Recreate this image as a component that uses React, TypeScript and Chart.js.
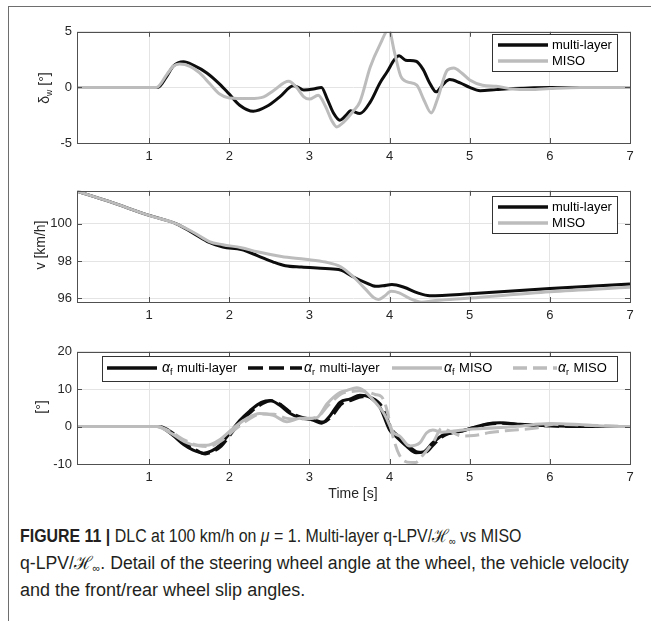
import React, { useEffect, useRef } from "react";
import { Chart, registerables } from "chart.js";

Chart.register(...registerables);

// ---------- tick values ----------
const timeTicks = [1, 2, 3, 4, 5, 6, 7];
const deltaTicks = [-5, 0, 5];
const speedTicks = [96, 98, 100];
const slipTicks = [-10, 0, 10, 20];

// ---------- steering angle at the wheel δw [°] ----------
const deltaMLTime = [0.1, 1.11, 1.22, 1.3, 1.43, 1.55, 1.72, 1.88, 2.0, 2.13, 2.3, 2.47, 2.63, 2.8, 2.86, 2.93, 3.05, 3.15, 3.22, 3.3, 3.38, 3.47, 3.51, 3.63, 3.76, 3.88, 3.97, 4.06, 4.12, 4.2, 4.33, 4.42, 4.5, 4.58, 4.67, 4.75, 4.88, 5.0, 5.13, 5.33, 5.54, 6.0, 7.0];
const deltaML = [0, 0, 1.0, 1.9, 2.3, 2.0, 1.3, 0.3, -0.6, -1.6, -2.15, -1.7, -0.85, 0.15, 0, -0.23, -0.15, 0, -1.0, -2.3, -2.95, -2.4, -2.1, -2.35, -1.3, 0.4, 1.4, 2.5, 2.85, 2.45, 2.35, 1.6, 0.4, -0.4, 0.3, 0.7, 0.4, 0, -0.3, -0.2, -0.1, 0, 0];
const deltaMISOTime = [0.1, 1.09, 1.22, 1.3, 1.38, 1.51, 1.63, 1.76, 1.88, 2.0, 2.26, 2.43, 2.55, 2.74, 2.84, 2.93, 3.0, 3.11, 3.2, 3.28, 3.34, 3.43, 3.55, 3.63, 3.76, 3.88, 3.99, 4.06, 4.14, 4.22, 4.34, 4.43, 4.52, 4.6, 4.72, 4.8, 4.9, 5.0, 5.16, 5.33, 5.54, 5.75, 6.0, 6.38, 7.0];
const deltaMISO = [0, 0, 1.15, 1.9, 2.1, 1.9, 1.3, 0.3, -0.6, -0.95, -1.0, -0.85, -0.3, 0.55, 0, -0.85, -1.05, -0.7, -1.7, -3.0, -3.55, -3.1, -2.1, -1.3, 1.85, 3.85, 5.2, 3.2, 1.0, 0.5, 0.2, -1.15, -2.3, -1.0, 1.55, 1.75, 1.3, 0.67, 0.2, 0.1, -0.15, -0.2, -0.1, 0, 0];

// ---------- vehicle velocity v [km/h] ----------
const speedMLTime = [0.1, 0.5, 1.0, 1.34, 1.55, 1.75, 1.92, 2.15, 2.35, 2.55, 2.7, 2.9, 3.2, 3.39, 3.55, 3.7, 3.83, 3.92, 4.03, 4.18, 4.35, 4.5, 5.0, 6.0, 7.0];
const speedML = [101.75, 101.2, 100.45, 100.0, 99.5, 99.0, 98.75, 98.62, 98.3, 97.95, 97.75, 97.68, 97.6, 97.52, 97.15, 96.85, 96.65, 96.68, 96.75, 96.6, 96.3, 96.15, 96.25, 96.53, 96.78];
const speedMISOTime = [0.1, 0.5, 1.0, 1.34, 1.55, 1.75, 1.92, 2.15, 2.35, 2.65, 2.95, 3.2, 3.39, 3.55, 3.7, 3.8, 3.86, 3.93, 4.02, 4.12, 4.25, 4.4, 4.55, 5.0, 6.0, 7.0];
const speedMISO = [101.75, 101.2, 100.45, 100.0, 99.55, 99.05, 98.88, 98.72, 98.5, 98.25, 98.1, 97.95, 97.7, 97.15, 96.5, 96.05, 95.95, 96.1, 96.38, 96.3, 96.0, 95.8, 95.88, 96.02, 96.36, 96.6];

// ---------- slip angles [°] ----------
const alphaFMLTime = [0.1, 1.11, 1.26, 1.43, 1.55, 1.68, 1.78, 1.88, 2.0, 2.13, 2.26, 2.4, 2.51, 2.63, 2.76, 2.88, 3.05, 3.15, 3.26, 3.38, 3.51, 3.63, 3.76, 3.88, 4.0, 4.08, 4.21, 4.33, 4.42, 4.54, 4.67, 4.88, 5.04, 5.21, 5.38, 5.63, 5.96, 6.38, 7.0];
const alphaFML = [0, 0, -1.7, -4.8, -6.3, -7.1, -6.5, -5.0, -1.9, 1.6, 4.3, 6.5, 7.0, 5.7, 3.5, 2.4, 1.7, 0.9, 3.0, 6.5, 7.4, 8.4, 7.8, 5.2, -0.9, -2.6, -5.2, -7.0, -6.8, -4.3, -2.2, -1.3, -0.3, 0.7, 1.0, 0.6, 0.25, 0, 0];
const alphaRMLTime = [0.1, 1.13, 1.28, 1.45, 1.58, 1.7, 1.8, 1.9, 2.02, 2.15, 2.28, 2.42, 2.53, 2.65, 2.78, 2.9, 3.06, 3.17, 3.28, 3.4, 3.53, 3.66, 3.78, 3.9, 4.02, 4.1, 4.23, 4.35, 4.44, 4.56, 4.68, 4.9, 5.06, 5.23, 5.4, 5.65, 6.0, 6.4, 7.0];
const alphaRML = [0, 0, -1.5, -4.5, -6.2, -7.3, -6.6, -5.2, -2.0, 1.4, 4.1, 6.2, 6.9, 5.8, 3.6, 2.5, 1.8, 1.2, 2.8, 6.0, 7.1, 8.0, 7.6, 5.5, -0.5, -2.4, -5.0, -6.8, -6.9, -4.6, -2.4, -1.2, -0.2, 0.6, 0.9, 0.55, 0.2, 0, 0];
const alphaFMISOTime = [0.1, 1.09, 1.26, 1.43, 1.59, 1.72, 1.88, 2.05, 2.22, 2.38, 2.55, 2.72, 2.88, 3.09, 3.22, 3.38, 3.47, 3.59, 3.68, 3.8, 3.93, 4.05, 4.13, 4.25, 4.38, 4.46, 4.54, 4.65, 4.8, 5.0, 5.3, 5.6, 6.0, 6.3, 6.6, 7.0];
const alphaFMISO = [0, 0, -1.6, -3.9, -5.0, -5.0, -3.5, -0.4, 2.2, 3.5, 3.0, 1.3, 2.2, 2.4, 6.1, 9.1, 9.7, 10.4, 9.6, 7.0, 3.5, -1.6, -2.6, -5.2, -4.3, -1.7, -0.9, -1.5, -1.2, -0.7, -0.4, 0.1, 0.8, 0.6, 0.2, 0];
const alphaRMISOTime = [0.1, 1.1, 1.27, 1.45, 1.62, 1.75, 1.9, 2.07, 2.24, 2.4, 2.56, 2.72, 2.9, 3.1, 3.24, 3.4, 3.5, 3.62, 3.72, 3.82, 3.9, 3.96, 4.04, 4.12, 4.22, 4.32, 4.42, 4.55, 4.65, 4.75, 4.9, 5.05, 5.25, 5.45, 5.85, 6.05, 6.4, 7.0];
const alphaRMISO = [0, 0, -1.4, -3.7, -5.1, -5.3, -3.8, -0.8, 1.9, 3.4, 3.3, 2.2, 2.0, 2.6, 5.8, 8.8, 9.3, 9.6, 9.3, 8.6, 8.0, 5.0, -2.5, -7.5, -9.5, -9.6, -7.5, -4.0, -0.5, -1.2, -2.5, -2.4, -1.6, -1.1, -0.3, 0.6, 0.4, 0];

// ---------- styles ----------
const FONT = '"Liberation Sans", Arial, Helvetica, sans-serif';
const AXIS = "#505050";
const TXT = "#262626";
const BLACK = "#0d0d0d";
const GRAY = "#bcbcbc";
const GRID = "#e4e4e4";

const pts = (t: number[], v: number[]) => t.map((x, i) => ({ x, y: v[i] }));

const matlabPlugin = {
  id: "matlab",
  afterDraw(chart: any, _args: any, opts: any) {
    const { ctx, chartArea: a, scales } = chart;
    const xs = scales.x;
    const ys = scales.y;
    ctx.save();
    ctx.strokeStyle = AXIS;
    ctx.lineWidth = 1;
    ctx.setLineDash([]);
    ctx.beginPath();
    for (const v of opts.xTicks) {
      const px = Math.round(xs.getPixelForValue(v)) + 0.5;
      ctx.moveTo(px, a.bottom);
      ctx.lineTo(px, a.bottom - 5);
      ctx.moveTo(px, a.top);
      ctx.lineTo(px, a.top + 5);
    }
    for (const v of opts.yTicks) {
      const py = Math.round(ys.getPixelForValue(v)) + 0.5;
      ctx.moveTo(a.left, py);
      ctx.lineTo(a.left + 5, py);
      ctx.moveTo(a.right, py);
      ctx.lineTo(a.right - 5, py);
    }
    ctx.stroke();
    ctx.strokeRect(Math.round(a.left) + 0.5, Math.round(a.top) + 0.5, Math.round(a.width), Math.round(a.height));

    const L = opts.legend;
    if (L) {
      const off = opts.canvasTop;
      ctx.fillStyle = "#ffffff";
      ctx.fillRect(L.x1, L.y1 - off, L.x2 - L.x1, L.y2 - L.y1);
      ctx.strokeStyle = "#333333";
      ctx.lineWidth = 1;
      ctx.strokeRect(L.x1 + 0.5, L.y1 - off + 0.5, L.x2 - L.x1, L.y2 - L.y1);
      for (const it of L.items) {
        const y = it.y - off;
        ctx.beginPath();
        ctx.strokeStyle = it.color;
        ctx.lineWidth = 3.5;
        ctx.lineCap = "butt";
        ctx.setLineDash(it.dash);
        ctx.moveTo(it.x1, y);
        ctx.lineTo(it.x2, y);
        ctx.stroke();
        ctx.setLineDash([]);
        ctx.fillStyle = "#000000";
        ctx.textBaseline = "middle";
        ctx.textAlign = "left";
        let x = it.tx;
        if (it.sym) {
          ctx.font = `italic 14px ${FONT}`;
          ctx.fillText(it.sym, x, y);
          x += ctx.measureText(it.sym).width;
          ctx.font = `9px ${FONT}`;
          ctx.fillText(it.sub, x, y + 5);
          x += ctx.measureText(it.sub).width + 1;
          ctx.font = `13px ${FONT}`;
          ctx.fillText(" " + it.text, x, y);
        } else {
          ctx.font = `13px ${FONT}`;
          ctx.fillText(it.text, x, y);
        }
      }
    }
    ctx.restore();
  },
};

type PlotCfg = {
  areaTop: number;
  areaBottom: number;
  yMin: number;
  yMax: number;
  yTicks: number[];
  datasets: any[];
  legend: any;
};

const plots: PlotCfg[] = [
  {
    areaTop: 29,
    areaBottom: 143,
    yMin: -5,
    yMax: 5,
    yTicks: deltaTicks,
    datasets: [
      { label: "multi-layer", data: pts(deltaMLTime, deltaML), borderColor: BLACK, dash: [], order: 1 },
      { label: "MISO", data: pts(deltaMISOTime, deltaMISO), borderColor: GRAY, dash: [], order: 0 },
    ],
    legend: {
      x1: 492, x2: 617, y1: 34, y2: 71,
      items: [
        { x1: 498, x2: 548, y: 45, color: BLACK, dash: [], text: "multi-layer", tx: 552 },
        { x1: 498, x2: 548, y: 61, color: GRAY, dash: [], text: "MISO", tx: 552 },
      ],
    },
  },
  {
    areaTop: 188,
    areaBottom: 302,
    yMin: 95.81,
    yMax: 101.77,
    yTicks: speedTicks,
    datasets: [
      { label: "multi-layer", data: pts(speedMLTime, speedML), borderColor: BLACK, dash: [], order: 1 },
      { label: "MISO", data: pts(speedMISOTime, speedMISO), borderColor: GRAY, dash: [], order: 0 },
    ],
    legend: {
      x1: 492, x2: 617, y1: 196, y2: 233,
      items: [
        { x1: 498, x2: 548, y: 207, color: BLACK, dash: [], text: "multi-layer", tx: 552 },
        { x1: 498, x2: 548, y: 223, color: GRAY, dash: [], text: "MISO", tx: 552 },
      ],
    },
  },
  {
    areaTop: 349,
    areaBottom: 464,
    yMin: -10,
    yMax: 20,
    yTicks: slipTicks,
    datasets: [
      { label: "αf multi-layer", data: pts(alphaFMLTime, alphaFML), borderColor: BLACK, dash: [], order: 3 },
      { label: "αr multi-layer", data: pts(alphaRMLTime, alphaRML), borderColor: BLACK, dash: [15, 6], order: 2 },
      { label: "αf MISO", data: pts(alphaFMISOTime, alphaFMISO), borderColor: GRAY, dash: [], order: 1 },
      { label: "αr MISO", data: pts(alphaRMISOTime, alphaRMISO), borderColor: GRAY, dash: [14, 6], order: 0 },
    ],
    legend: {
      x1: 102, x2: 617, y1: 356, y2: 381,
      items: [
        { x1: 107, x2: 157, y: 368, color: BLACK, dash: [], sym: "α", sub: "f", text: "multi-layer", tx: 162 },
        { x1: 248, x2: 302, y: 368, color: BLACK, dash: [15, 6], sym: "α", sub: "r", text: "multi-layer", tx: 304 },
        { x1: 392, x2: 442, y: 368, color: GRAY, dash: [], sym: "α", sub: "f", text: "MISO", tx: 444 },
        { x1: 513, x2: 557, y: 368, color: GRAY, dash: [14, 6], sym: "α", sub: "r", text: "MISO", tx: 558 },
      ],
    },
  },
];

const PAD_TOP = 10;
const X_AXIS_H = 26;

function Plot({ cfg }: { cfg: PlotCfg }) {
  const ref = useRef<HTMLCanvasElement | null>(null);
  const canvasTop = cfg.areaTop - PAD_TOP;
  const height = cfg.areaBottom - canvasTop + X_AXIS_H;
  useEffect(() => {
    if (!ref.current) return;
    const tickFont = { family: FONT, size: 13 };
    const chart = new Chart(ref.current, {
      type: "line",
      data: {
        datasets: cfg.datasets.map((d) => ({
          label: d.label,
          data: d.data,
          borderColor: d.borderColor,
          borderDash: d.dash,
          borderWidth: 3,
          pointRadius: 0,
          fill: false,
          cubicInterpolationMode: "monotone",
          order: d.order,
          clip: 0,
        })),
      },
      options: {
        responsive: false,
        animation: false,
        devicePixelRatio: 1,
        layout: { padding: { top: PAD_TOP, left: 0, right: 21, bottom: 0 } },
        plugins: {
          legend: { display: false },
          tooltip: { enabled: false },
          matlab: { xTicks: timeTicks, yTicks: cfg.yTicks, legend: cfg.legend, canvasTop },
        } as any,
        scales: {
          x: {
            type: "linear",
            min: 0.1,
            max: 7,
            afterBuildTicks: (s: any) => {
              s.ticks = timeTicks.map((v) => ({ value: v }));
            },
            afterFit: (s: any) => {
              s.height = X_AXIS_H;
            },
            grid: { color: GRID, drawTicks: false, lineWidth: 1 },
            border: { display: false },
            ticks: {
              padding: 6,
              color: TXT,
              font: tickFont,
              maxRotation: 0,
              autoSkip: false,
              callback: (v: any) => String(v),
            },
          },
          y: {
            type: "linear",
            min: cfg.yMin,
            max: cfg.yMax,
            afterBuildTicks: (s: any) => {
              s.ticks = cfg.yTicks.map((v) => ({ value: v }));
            },
            afterFit: (s: any) => {
              s.width = 77;
            },
            grid: { color: GRID, drawTicks: false, lineWidth: 1 },
            border: { display: false },
            ticks: {
              padding: 5,
              color: TXT,
              font: tickFont,
              autoSkip: false,
              callback: (v: any) => String(v),
            },
          },
        },
      } as any,
      plugins: [matlabPlugin as any],
    });
    return () => chart.destroy();
  }, []);
  return (
    <canvas
      ref={ref}
      width={651}
      height={height}
      style={{ position: "absolute", left: 0, top: canvasTop, width: 651, height, display: "block" }}
    />
  );
}

const subStyle: React.CSSProperties = { fontSize: "0.62em", verticalAlign: "baseline", position: "relative", top: "0.3em" };

const rotated = (cx: number, cy: number): React.CSSProperties => ({
  position: "absolute",
  left: cx,
  top: cy,
  transform: "translate(-50%, -50%) rotate(-90deg)",
  whiteSpace: "nowrap",
  fontFamily: FONT,
  fontSize: 14,
  color: TXT,
  lineHeight: "16px",
});

const captionLine = (k: number): React.CSSProperties => ({
  transform: `scaleX(${k})`,
  transformOrigin: "left center",
  whiteSpace: "nowrap",
});

export default function App() {
  return (
    <div style={{ position: "absolute", left: 0, top: 0, width: 651, height: 621, background: "#fff", overflow: "hidden" }}>
      <div
        style={{
          position: "absolute",
          left: 8,
          top: 6,
          width: 660,
          height: 640,
          borderTop: "1px solid #6e6e6e",
          borderLeft: "1px solid #6e6e6e",
        }}
      />
      {plots.map((p, i) => (
        <Plot key={i} cfg={p} />
      ))}
      <div style={rotated(45, 88)}>
        δ<span style={subStyle}>w</span> [°]
      </div>
      <div style={rotated(40, 245)}>v [km/h]</div>
      <div style={rotated(41, 407)}>[°]</div>
      <div
        style={{
          position: "absolute",
          left: 353,
          top: 493,
          transform: "translate(-50%, -50%)",
          fontFamily: FONT,
          fontSize: 14,
          color: TXT,
          whiteSpace: "nowrap",
        }}
      >
        Time [s]
      </div>
      <div
        style={{
          position: "absolute",
          left: 20,
          top: 524,
          width: 700,
          fontFamily: FONT,
          fontSize: 18,
          lineHeight: "25px",
          color: "#231f20",
          whiteSpace: "nowrap",
        }}
      >
        <div style={captionLine(0.885)}>
          <b>FIGURE 11 |</b> DLC at 100 km/h on <i>μ</i> = 1. Multi-layer q-LPV/ℋ<span style={subStyle}>∞</span> vs MISO
        </div>
        <div style={captionLine(0.98)}>
          q-LPV/ℋ<span style={subStyle}>∞</span>. Detail of the steering wheel angle at the wheel, the vehicle velocity
        </div>
        <div style={captionLine(1.0)}>and the front/rear wheel slip angles.</div>
      </div>
    </div>
  );
}
